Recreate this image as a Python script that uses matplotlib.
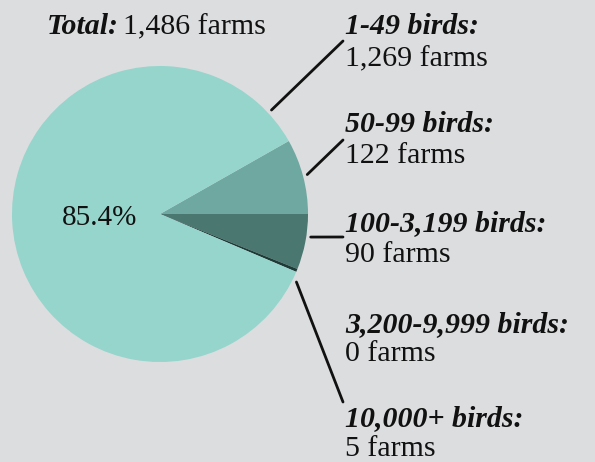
"""Pie chart: farms by flock size."""
import matplotlib
matplotlib.use("Agg")
import matplotlib.pyplot as plt
import numpy as np

# ── data ─────────────────────────────────────────────────────────────────────
categories = ["50-99 birds:", "100-3,199 birds:", "3,200-9,999 birds:",
              "10,000+ birds:", "1-49 birds:"]
farms = [122, 90, 0, 5, 1269]
total_farms = 1486
main_share = "85.4%"

# ── style / layout ───────────────────────────────────────────────────────────
BG = "#dcdddf"
COLORS = ["#6fa8a1", "#4a7770", "#2c4d49", "#1e3b38", "#95d5cb"]
FONT = "Liberation Serif"
FS = 21.5
W, H = 595, 462
CX, CY, R = 160, 214, 148          # pie centre / radius in pixels
LABEL_X = 345
# (label row y, value row y, leader angle deg, leader end y) per category
LAYOUT = {
    "1-49 birds:": (27, 59, 43, 41),
    "50-99 birds:": (125, 156, 15, 140),
    "100-3,199 birds:": (224, 255, -8.7, 237),
    "3,200-9,999 birds:": (325, 354, None, None),
    "10,000+ birds:": (419, 449, -26.5, 402),
}


def fx(px):
    return px / W


def fy(py):
    return 1 - py / H


fig = plt.figure(figsize=(W / 100, H / 100), dpi=100, facecolor=BG)
ax = fig.add_axes([fx(CX - R), fy(CY + R), 2 * R / W, 2 * R / H])
ax.set_facecolor(BG)

start = farms[0] / total_farms * 360
ax.pie(farms, colors=COLORS, startangle=start, counterclock=False,
       radius=1, wedgeprops=dict(linewidth=0))
ax.set_xlim(-1, 1)
ax.set_ylim(-1, 1)
ax.set_aspect("equal")
ax.axis("off")

ax.text(-0.41, -0.03, main_share, fontsize=21, family=FONT,
        ha="center", va="center", color="#111111")

for cat, n in zip(categories, farms):
    y1, y2, ang, yend = LAYOUT[cat]
    fig.text(fx(LABEL_X), fy(y1), cat, fontsize=FS, family=FONT,
             fontweight="bold", fontstyle="italic", va="center", ha="left",
             color="#111111")
    fig.text(fx(LABEL_X), fy(y2), f"{n:,} farms", fontsize=FS, family=FONT,
             va="center", ha="left", color="#111111")
    if ang is not None:
        a = np.deg2rad(ang)
        x0, y0 = 1.03 * np.cos(a), 1.03 * np.sin(a)
        ax.annotate("", xy=(x0, y0), xycoords="data",
                    xytext=(fx(LABEL_X - 2), fy(yend)),
                    textcoords="figure fraction",
                    arrowprops=dict(arrowstyle="-", color="#111111", lw=2,
                                    shrinkA=0, shrinkB=0),
                    annotation_clip=False)

# title: bold italic "Total:" followed by regular text
t1 = fig.text(fx(47), fy(27), "Total:", fontsize=FS, family=FONT,
              fontweight="bold", fontstyle="italic", va="center", ha="left",
              color="#111111")
fig.canvas.draw()
bb = t1.get_window_extent()
fig.text(bb.x1 / W + fx(4), fy(27), f"{total_farms:,} farms", fontsize=FS,
         family=FONT, va="center", ha="left", color="#111111")

fig.savefig("out.png", dpi=100, facecolor=BG)
